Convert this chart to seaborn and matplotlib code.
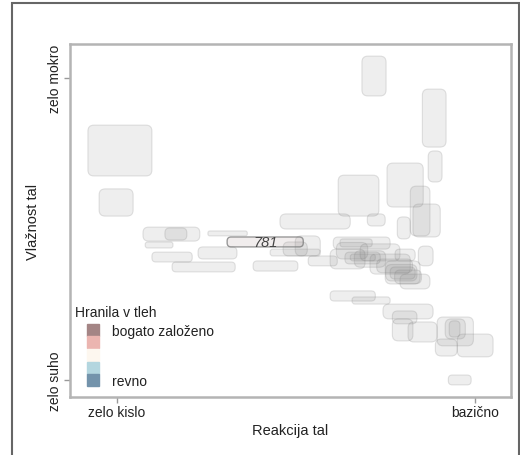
import matplotlib
matplotlib.use("Agg")
import matplotlib.pyplot as plt
from matplotlib.patches import FancyBboxPatch, Rectangle
from matplotlib.lines import Line2D
import seaborn as sns

sns.set_theme(style="white")
plt.rcParams['font.family'] = ['Liberation Sans', 'DejaVu Sans']

# ===================== podatki: obseg rastišč (reakcija x vlažnost) =====================
# reakcija tal (1 = zelo kislo ... 9 = bazično)
x_lo = [0.35, 0.60, 6.47, 7.82, 7.95, 5.94, 7.03, 7.55, 7.61, 4.64, 6.59, 7.26,
        1.58, 2.07, 3.03, 3.46, 1.63, 1.78, 2.81, 2.23, 4.04, 4.71, 5.27, 4.42,
        5.83, 5.98, 6.09, 6.21, 5.76, 6.43, 6.99, 7.10, 7.32, 6.65, 7.73, 4.98,
        7.21, 5.90, 6.30, 6.80, 7.00, 7.20,
        5.76, 6.25, 6.94, 7.15, 7.15, 7.50, 8.15, 8.33, 8.42, 8.60, 8.11, 8.40]
x_hi = [1.78, 1.36, 7.01, 8.35, 8.26, 6.85, 7.84, 7.99, 8.22, 6.21, 6.99, 7.55,
        2.85, 2.56, 3.91, 5.16, 2.25, 2.68, 3.68, 3.64, 5.04, 5.25, 5.92, 5.54,
        7.10, 6.70, 6.88, 6.77, 6.54, 7.32, 7.77, 7.66, 7.99, 7.55, 8.06, 5.54,
        7.66, 6.60, 7.00, 7.60, 7.70, 7.80,
        6.77, 7.10, 8.06, 7.70, 7.61, 8.15, 8.96, 8.78, 8.66, 9.40, 8.60, 8.91]
# vlažnost tal (1 = zelo suho ... 12 = zelo mokro)
y_lo = [8.42, 6.96, 11.33, 9.47, 8.20, 6.96, 7.29, 6.24, 6.20, 6.49, 6.60, 6.13,
        6.05, 6.09, 6.24, 5.84, 5.80, 5.29, 5.40, 4.93, 4.96, 5.51, 5.15, 5.51,
        5.76, 5.84, 5.22, 5.33, 5.04, 5.33, 4.49, 4.67, 4.31, 4.85, 5.15, 5.51,
        5.33, 5.40, 5.10, 4.90, 4.60, 4.50,
        3.87, 3.76, 3.22, 3.04, 2.42, 2.38, 2.24, 2.49, 2.56, 1.84, 1.87, 0.82]
y_hi = [10.27, 7.95, 12.78, 11.58, 9.33, 8.45, 8.89, 8.05, 7.40, 7.04, 7.04, 6.93,
        6.56, 6.53, 6.42, 6.20, 6.02, 5.65, 5.84, 5.29, 5.33, 6.02, 5.51, 5.76,
        6.20, 6.13, 5.65, 5.58, 5.76, 5.95, 5.33, 5.11, 4.85, 5.58, 5.87, 6.24,
        5.76, 6.00, 5.70, 5.40, 5.20, 5.00,
        4.24, 4.02, 3.76, 3.51, 3.22, 3.11, 3.29, 3.22, 3.15, 2.67, 2.49, 1.18]

oznaceno_idx = 15          # izpostavljeno rastišče
oznaceno_ime = "781"

x_ticks = [1, 9]
x_ticklabels = ["zelo kislo", "bazično"]
y_ticks = [1, 12]
y_ticklabels = ["zelo suho", "zelo mokro"]

legend_title = "Hranila v tleh"
legend_labels = ["bogato založeno", "", "", "", "revno"]
legend_colors = ["#a48585", "#ebb5b0", "#fdf7ef", "#b3d6df", "#7393ab"]

# ===================== risanje =====================
fig = plt.figure(figsize=(5.2, 4.56), dpi=100)
ax = fig.add_axes([70 / 520, 1 - 398 / 456, 441 / 520, 353 / 456])
ax.set_xlim(-0.05, 9.80)
ax.set_ylim(0.38, 13.22)

bb = ax.get_window_extent()
sx = bb.width / (9.80 + 0.05)
sy = bb.height / (13.22 - 0.38)

for i in range(len(x_lo)):
    w = x_hi[i] - x_lo[i]
    h = y_hi[i] - y_lo[i]
    r_px = min(6, 0.4 * min(w * sx, h * sy))
    if i == oznaceno_idx:
        fc, ec, lw = (0.94, 0.92, 0.92, 0.9), "#999999", 1.0
    else:
        fc, ec, lw = (0.47, 0.47, 0.47, 0.12), (0.5, 0.5, 0.5, 0.22), 0.8
    box = FancyBboxPatch((x_lo[i], y_lo[i]), w, h,
                         boxstyle=f"round,pad=0,rounding_size={r_px / sx}",
                         mutation_aspect=sx / sy, facecolor=fc, edgecolor=ec,
                         linewidth=lw, zorder=2)
    ax.add_patch(box)

ax.text((x_lo[oznaceno_idx] + x_hi[oznaceno_idx]) / 2,
        (y_lo[oznaceno_idx] + y_hi[oznaceno_idx]) / 2, oznaceno_ime,
        ha="center", va="center", fontsize=10.5, style="italic",
        color="#444444", zorder=3)

ax.set_xticks(x_ticks)
ax.set_xticklabels(x_ticklabels, fontsize=10, color="#222222")
ax.set_yticks(y_ticks)
ax.set_yticklabels(y_ticklabels, fontsize=10, color="#222222",
                   rotation=90, va="center")
ax.tick_params(axis="both", length=4, width=1, color="#999999", pad=1.5,
               bottom=True, left=True)
ax.set_xlabel("Reakcija tal", fontsize=10.5, color="#222222", labelpad=3)
ax.set_ylabel("Vlažnost tal", fontsize=10.5, color="#222222", labelpad=6)

for s in ax.spines.values():
    s.set_color("#b4b4b4")
    s.set_linewidth(1.8)

# legenda: naslov posebej, da so kvadratki zamaknjeni v desno
ax.text(0.011, 0.262, legend_title, transform=ax.transAxes, ha="left",
        va="top", fontsize=10, color="#222222", zorder=4)
handles = [Line2D([], [], linestyle="none", marker="s", markersize=8,
                  markerfacecolor=c, markeredgecolor=c) for c in legend_colors]
leg = ax.legend(handles, legend_labels, loc="upper left",
                bbox_to_anchor=(0.011, 0.208), frameon=False, fontsize=10,
                borderpad=0, borderaxespad=0, handlelength=2.66,
                handletextpad=0, labelspacing=-0.1)
for t in leg.get_texts():
    t.set_color("#222222")

# okvir slike
fig.patches.append(Rectangle((12 / 520, -0.02), 506.5 / 520, 1.02 - 4 / 456,
                             transform=fig.transFigure, fill=False,
                             edgecolor="#666666", linewidth=1.5))

fig.savefig("out.png", dpi=100)
